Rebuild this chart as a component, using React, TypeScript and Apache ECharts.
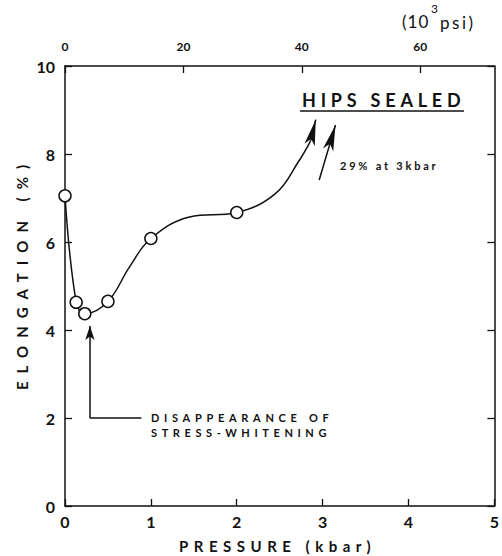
import React, { useEffect, useRef } from "react";
import * as echarts from "echarts";

// measured points (hollow circles)
const pressureKbar = [0, 0.13, 0.23, 0.5, 1.0, 2.0];
const elongationPct = [7.05, 4.63, 4.37, 4.65, 6.08, 6.67];

// hand-drawn trend curve
const fitKbar = [0, 0.13, 0.23, 0.5, 0.75, 1.0, 1.45, 2.0, 2.45, 2.72, 2.86];
const fitElong = [7.05, 4.63, 4.37, 4.65, 5.43, 6.08, 6.57, 6.67, 7.1, 7.83, 8.3];

// arrows (tip positions)
const fitArrowFrom = [2.86, 8.3];
const fitArrowTo = [2.92, 8.78];
const sealedArrowFrom = [2.96, 7.41];
const sealedArrowTo = [3.15, 8.66];
const noteArrowX = 0.29;
const noteLineEndX = 0.89;
const noteLevel = 2.0;
const noteArrowTop = 4.09;

const KSI_PER_KBAR = 14.5038;
const X_MAX_KBAR = 5;
const Y_MAX = 10;

const FONT = "Lato, 'DejaVu Sans', sans-serif";
const INK = "#111";

const spacing: Record<string, number> = {
  "ELONGATION (%)": 8,
  "PRESSURE (kbar)": 5.5,
  "HIPS SEALED": 4.8,
  "DISAPPEARANCE OF": 4.7,
  "STRESS-WHITENING": 4.6,
  "29% at 3kbar": 2.8,
  "(10": 1,
  "psi)": 2.5,
};

export default function App() {
  const ref = useRef<HTMLDivElement>(null);
  useEffect(() => {
    if (!ref.current) return;
    const chart = echarts.init(ref.current, undefined, { renderer: "svg" });
    const axisLine = { show: true, onZero: false, lineStyle: { color: INK, width: 1.5 } };
    const tick = { show: true, inside: true, length: 7, lineStyle: { color: INK, width: 1.3 } };
    const mlCommon = {
      silent: true,
      symbol: ["none", "arrow"],
      symbolSize: [8, 26],
      label: { show: false },
      lineStyle: { color: INK, width: 1.5, type: "solid" },
      emphasis: { disabled: true },
    };
    chart.setOption({
      animation: false,
      backgroundColor: "#fff",
      grid: { left: 65, right: 5, top: 66, bottom: 50, containLabel: false },
      xAxis: [
        {
          type: "value",
          position: "bottom",
          min: 0,
          max: X_MAX_KBAR,
          interval: 1,
          axisLine,
          axisTick: tick,
          splitLine: { show: false },
          axisLabel: { margin: 7, fontSize: 16, color: INK, fontFamily: FONT, fontWeight: "bold" },
        },
        {
          type: "value",
          position: "top",
          min: 0,
          max: X_MAX_KBAR * KSI_PER_KBAR,
          interval: 20,
          axisLine,
          axisTick: tick,
          splitLine: { show: false },
          axisLabel: { margin: 14, fontSize: 12, color: INK, fontFamily: FONT, fontWeight: "bold", showMaxLabel: false },
        },
      ],
      yAxis: [
        {
          type: "value",
          position: "left",
          min: 0,
          max: Y_MAX,
          interval: 2,
          axisLine,
          axisTick: tick,
          splitLine: { show: false },
          axisLabel: { margin: 10, fontSize: 16, color: INK, fontFamily: FONT, fontWeight: "bold" },
        },
        {
          type: "value",
          position: "right",
          min: 0,
          max: Y_MAX,
          interval: 2,
          axisLine,
          axisTick: tick,
          splitLine: { show: false },
          axisLabel: { show: false },
        },
      ],
      series: [
        {
          type: "line",
          silent: true,
          data: fitKbar.map((x, i) => [x, fitElong[i]]),
          smooth: 0.4,
          symbol: "none",
          lineStyle: { color: INK, width: 1.5 },
          z: 2,
          markLine: {
            ...mlCommon,
            data: [
              [{ coord: fitArrowFrom }, { coord: fitArrowTo }],
              [{ coord: sealedArrowFrom }, { coord: sealedArrowTo }],
            ],
          },
        },
        {
          type: "line",
          silent: true,
          data: [
            [noteLineEndX, noteLevel],
            [noteArrowX, noteLevel],
          ],
          symbol: "none",
          lineStyle: { color: INK, width: 1.5 },
          markLine: {
            ...mlCommon,
            symbolSize: [7, 14],
            data: [[{ coord: [noteArrowX, noteLevel] }, { coord: [noteArrowX, noteArrowTop] }]],
          },
        },
        {
          type: "scatter",
          silent: true,
          data: pressureKbar.map((x, i) => [x, elongationPct[i]]),
          symbol: "circle",
          symbolSize: 12,
          itemStyle: { color: "#fff", borderColor: INK, borderWidth: 1.5, opacity: 1 },
          z: 5,
        },
      ],
      graphic: [
        { type: "text", x: 402, y: 21, style: { text: "(10", font: `17px ${FONT}`, fill: INK, verticalAlign: "middle", align: "left" } },
        { type: "text", x: 431, y: 8, style: { text: "3", font: `12px ${FONT}`, fill: INK, verticalAlign: "middle", align: "left" } },
        { type: "text", x: 440, y: 22, style: { text: "psi)", font: `17px ${FONT}`, fill: INK, verticalAlign: "middle", align: "left" } },
        { type: "text", x: 302, y: 100, style: { text: "HIPS SEALED", font: `bold 18px ${FONT}`, fill: INK, verticalAlign: "middle", align: "left" } },
        { type: "line", shape: { x1: 300, y1: 111, x2: 464, y2: 111 }, style: { stroke: INK, lineWidth: 1.5 } },
        { type: "text", x: 340, y: 165, style: { text: "29% at 3kbar", font: `bold 11px ${FONT}`, fill: INK, verticalAlign: "middle", align: "left" } },
        { type: "text", x: 151, y: 417, style: { text: "DISAPPEARANCE OF", font: `bold 11px ${FONT}`, fill: INK, verticalAlign: "middle", align: "left" } },
        { type: "text", x: 151, y: 432, style: { text: "STRESS-WHITENING", font: `bold 11px ${FONT}`, fill: INK, verticalAlign: "middle", align: "left" } },
        { type: "text", x: 22, y: 390, rotation: Math.PI / 2, style: { text: "ELONGATION (%)", font: `bold 15px ${FONT}`, fill: INK, verticalAlign: "middle", align: "left" } },
        { type: "text", x: 179, y: 546, style: { text: "PRESSURE (kbar)", font: `bold 15px ${FONT}`, fill: INK, verticalAlign: "middle", align: "left" } },
      ],
    });
    const applySpacing = () => {
      ref.current?.querySelectorAll("text").forEach((t) => {
        const s = spacing[(t.textContent || "").trim()];
        if (s) (t as SVGTextElement).style.letterSpacing = s + "px";
      });
    };
    applySpacing();
    chart.on("finished", applySpacing);
    return () => chart.dispose();
  }, []);
  return <div ref={ref} style={{ position: "fixed", left: 0, top: 0, width: 502, height: 556, background: "#fff" }} />;
}
